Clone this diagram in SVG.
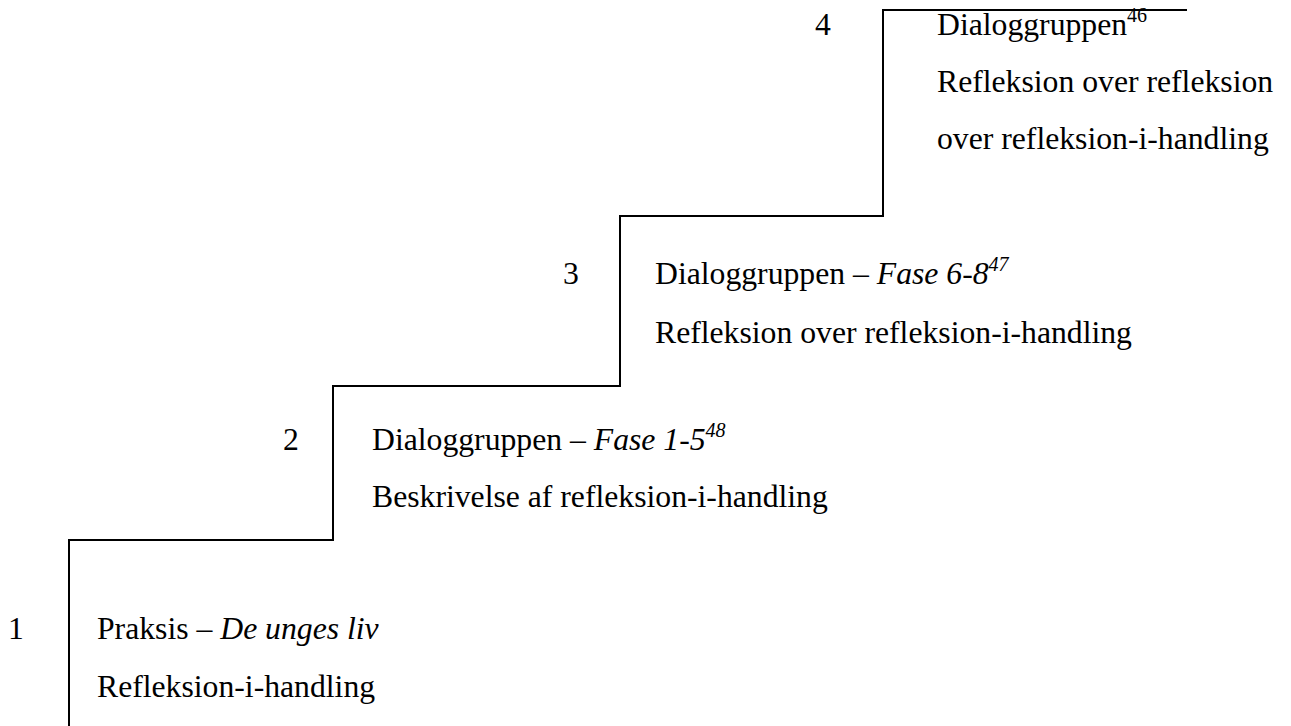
<svg xmlns="http://www.w3.org/2000/svg" width="1291" height="726" viewBox="0 0 1291 726">
<style>
text{font-family:"Liberation Serif","Times New Roman",serif;font-size:31.7px;fill:#000}
.it{font-style:italic}
.sup{font-size:20px}
.stair{fill:none;stroke:#000;stroke-width:2}
</style>
<rect width="1291" height="726" fill="#fff"/>
<g id="connectors">
<path class="stair" d="M1187 10 H883 V216 H620 V386 H333 V540 H69 V726"/>
</g>
<g id="step4">
<text x="815" y="35">4</text>
<text x="937" y="35">Dialoggruppen<tspan class="sup" dy="-13">46</tspan></text>
<text x="937" y="92">Refleksion over refleksion</text>
<text x="937" y="149">over refleksion-i-handling</text>
</g>
<g id="step3">
<text x="563" y="284">3</text>
<text x="655" y="284">Dialoggruppen – <tspan class="it">Fase 6-8</tspan><tspan class="sup it" dy="-13">47</tspan></text>
<text x="655" y="343">Refleksion over refleksion-i-handling</text>
</g>
<g id="step2">
<text x="283" y="450">2</text>
<text x="372" y="450">Dialoggruppen – <tspan class="it">Fase 1-5</tspan><tspan class="sup it" dy="-13">48</tspan></text>
<text x="372" y="507">Beskrivelse af refleksion-i-handling</text>
</g>
<g id="step1">
<text x="8" y="639">1</text>
<text x="97" y="639">Praksis – <tspan class="it">De unges liv</tspan></text>
<text x="97" y="697">Refleksion-i-handling</text>
</g>
</svg>
